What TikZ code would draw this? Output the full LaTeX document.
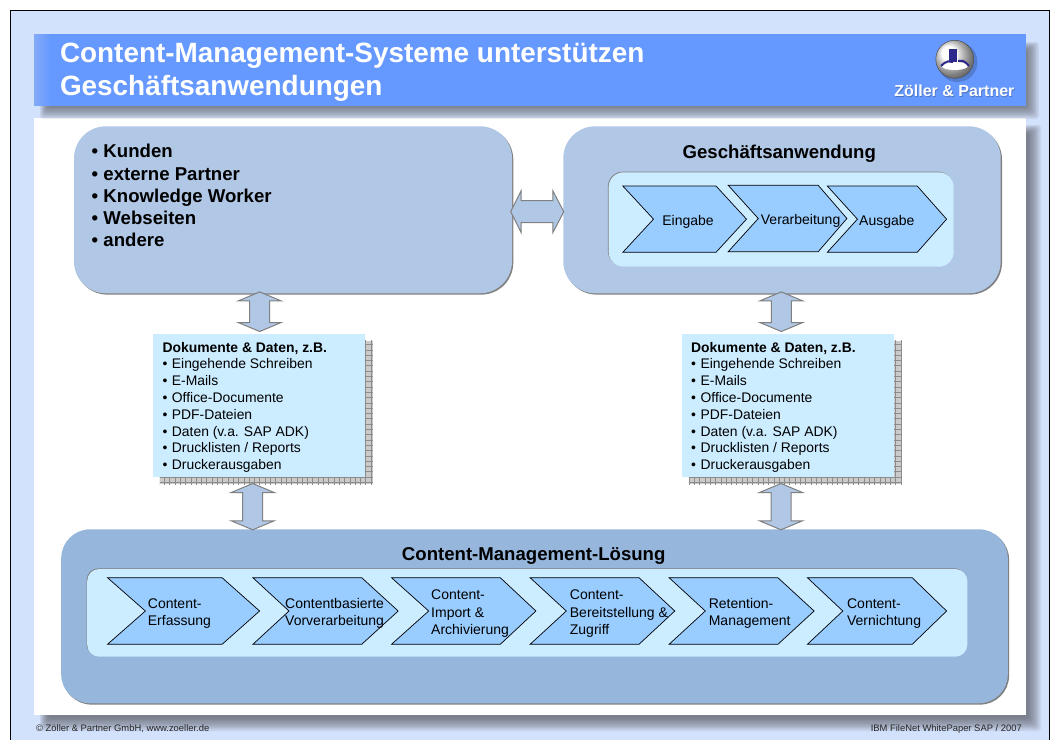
\documentclass[tikz,border=0pt]{standalone}
\usepackage{fontspec}
\setmainfont{Liberation Sans}
\usetikzlibrary{calc,shadings,fadings}
\definecolor{pagebg}{HTML}{D2E1FC}
\definecolor{headblue}{HTML}{6699FF}
\definecolor{headlight}{HTML}{85ABF8}
\definecolor{boxblue}{HTML}{B0C7E5}
\definecolor{solblue}{HTML}{96B6DC}
\definecolor{innerblue}{HTML}{CCECFF}
\definecolor{chevblue}{HTML}{99CCFF}
\definecolor{edgegray}{HTML}{808080}
\definecolor{gridfill}{HTML}{CACACA}
\definecolor{gridline}{HTML}{8C8C8C}
\definecolor{navy}{HTML}{2E2A8C}
\tikzset{
  softshadow/.style={fill=black!72,fill opacity=.085,draw=none},
  bigbox/.style={draw=none,rounded corners=#1,inner sep=0pt,
    preaction={fill=edgegray,transform canvas={shift={(1.3pt,-1.3pt)}}}},
  innerbox/.style={draw=none,fill=innerblue,rounded corners=#1,inner sep=0pt,
    preaction={fill=edgegray,transform canvas={shift={(-.7pt,.7pt)}}}},
  docbox/.style={fill=innerblue,draw=none,inner sep=0pt},
  gridshadow/.style={fill=gridfill,draw=none,inner sep=0pt},
  gridlines/.style={draw=gridline,line width=.6pt},
  chevstyle/.style={fill=chevblue,draw=black,line width=.7pt,line join=miter},
  vblock/.style={draw=edgegray,fill=boxblue,line width=1pt,to path={
    let \p1=(\tikztostart),\p2=(\tikztotarget) in
    (\x1,\y1) -- (\x1+21.5pt,\y1-9pt) -- (\x1+10pt,\y1-9pt) -- (\x1+10pt,\y2+9pt)
    -- (\x1+21.5pt,\y2+9pt) -- (\x1,\y2) -- (\x1-21.5pt,\y2+9pt) -- (\x1-10pt,\y2+9pt)
    -- (\x1-10pt,\y1-9pt) -- (\x1-21.5pt,\y1-9pt) -- cycle}},
  hblock/.style={draw=edgegray,fill=boxblue,line width=1pt,to path={
    let \p1=(\tikztostart),\p2=(\tikztotarget) in
    (\x1,\y1) -- (\x1+10.5pt,\y1+21pt) -- (\x1+10.5pt,\y1+11pt) -- (\x2-11pt,\y1+11pt)
    -- (\x2-11pt,\y1+21pt) -- (\x2,\y1) -- (\x2-11pt,\y1-21pt) -- (\x2-11pt,\y1-11pt)
    -- (\x1+10.5pt,\y1-11pt) -- (\x1+10.5pt,\y1-21pt) -- cycle}},
  titletext/.style={font=\fontsize{27.9}{33.4}\selectfont\bfseries,text=white,anchor=base west,inner sep=0pt},
  listtext/.style={font=\fontsize{18.6}{22.3}\selectfont\bfseries,align=left,anchor=north west,inner sep=0pt},
  headtext/.style={font=\fontsize{18.6}{20}\selectfont\bfseries,anchor=base,inner sep=0pt},
  chevtext/.style={font=\fontsize{14}{17.2}\selectfont,align=left,anchor=base west,inner sep=0pt},
  chevmulti/.style={font=\fontsize{14}{17.2}\selectfont,align=left,anchor=north west,inner sep=0pt},
  doctext/.style={font=\fontsize{13.9}{16.8}\selectfont,align=left,anchor=north west,inner sep=0pt},
  foottext/.style={font=\fontsize{9.4}{10}\selectfont,text=black!85,inner sep=0pt},
}
\newcommand{\chev}[6]{\draw[chevstyle] (#1,#5) -- (#3,#5) -- (#4,{(#5+#6)/2}) -- (#3,#6) -- (#1,#6) -- (#2,{(#5+#6)/2}) -- cycle;}
\newcommand{\softrect}[4]{\foreach \i in {0,...,9}{\fill[softshadow,rounded corners=3pt] ({#1+\i*.9},{#2+\i*.9}) rectangle ({#3-\i*1.4},{#4-\i*1.4});}}
\newcommand{\gridin}[4]{\foreach \gx in {#1,...,#2}{\draw[gridlines] ({\gx*5.3},#3) -- ({\gx*5.3},#4);}}
\newcommand{\doclines}{\textbf{Dokumente \& Daten, z.B.}\\
  \makebox[9.4pt][l]{•}Eingehende Schreiben\\
  \makebox[9.4pt][l]{•}E-Mails\\
  \makebox[9.4pt][l]{•}Office-Documente\\
  \makebox[9.4pt][l]{•}PDF-Dateien\\
  \makebox[9.4pt][l]{•}Daten (v.a. SAP ADK)\\
  \makebox[9.4pt][l]{•}Drucklisten / Reports\\
  \makebox[9.4pt][l]{•}Druckerausgaben}
\begin{document}
\begin{tikzpicture}[x=1pt,y=-1pt]
\useasboundingbox (0,0) rectangle (1050,740);
% page
\fill[white] (0,0) rectangle (1050,740);
\fill[pagebg] (10.5,10) rectangle (1049.5,740);
\draw[black,line width=1pt] (10.5,740) -- (10.5,10) -- (1049.5,10) -- (1049.5,740);
% panel and header
\softrect{40}{125}{1041}{731}
\fill[white] (33.5,118) rectangle (1026.4,715);
\softrect{40}{42}{1039}{119}
\fill[headblue] (34,34.3) rectangle (1025.7,105.7);
\shade[left color=headlight,right color=headblue] (34,34.3) rectangle (50,105.7);
% title
\node[titletext] (title1) at (59.8,62.3) {Content-Management-Systeme unterstützen};
\node[titletext] (title2) at (59.8,95.7) {Geschäftsanwendungen};
% logo
\fill[black,opacity=.18] (957.5,62) circle (20);
\shade[ball color=white,draw=black!70,line width=.5pt] (954.8,59.3) circle (19);
\fill[white] (954.8,66) ellipse (13 and 4);
\fill[navy] (949.3,48.5) rectangle (956.5,62);
\draw[navy,line width=2pt] (941,66) .. controls (947,60) and (950,61) .. (953,62);
\draw[navy,line width=2pt] (969,66) .. controls (964,60) and (961,60) .. (958,61);
\draw[white,line width=.8pt] (957,52) -- (957,66);
\node[font=\fontsize{16}{18}\selectfont\bfseries,text=black,opacity=.25,anchor=base,inner sep=0pt] (logoshadow) at (955.1,97.3) {Zöller \& Partner};
\node[font=\fontsize{16}{18}\selectfont\bfseries,text=white,anchor=base,inner sep=0pt] (logotext) at (954.4,96.7) {Zöller \& Partner};
% big boxes
\node[bigbox=32pt,fill=boxblue,minimum width=438pt,minimum height=167pt] (leftbox) at (293,209.8) {};
\node[bigbox=32pt,fill=boxblue,minimum width=437.4pt,minimum height=167pt] (rightbox) at (782,209.8) {};
\node[bigbox=29pt,fill=solblue,minimum width=946.6pt,minimum height=174pt] (solbox) at (534.5,616.3) {};
% left list
\node[listtext] (kunden) at (91.3,144.1) {\makebox[12pt][l]{•}Kunden\\
  \makebox[12pt][l]{•}externe Partner\\
  \makebox[12pt][l]{•}Knowledge Worker\\
  \makebox[12pt][l]{•}Webseiten\\
  \makebox[12pt][l]{•}andere};
% Geschäftsanwendung
\node[headtext] (gatitle) at (779.3,158.3) {Geschäftsanwendung};
\node[innerbox=15pt,minimum width=345.1pt,minimum height=94.4pt] (gainner) at (781.15,219.5) {};
\chev{622.8}{653.5}{716}{746.5}{186}{252.3}
\chev{728.2}{758.3}{818.2}{846.9}{185.3}{251.7}
\chev{827.3}{857.4}{917.2}{946.6}{186}{252.3}
\node[chevtext,anchor=base] (eingabe) at (688,225.7) {Eingabe};
\node[chevtext] (verarb) at (760.7,224.3) {Verarbeitung};
\node[chevtext] (ausgabe) at (859,225.7) {Ausgabe};
% document boxes
\node[gridshadow,minimum width=212.7pt,minimum height=143.3pt] (doclsh) at (266.35,412.65) {};
\node[gridshadow,minimum width=212.7pt,minimum height=143.3pt] (docrsh) at (795.35,412.65) {};
\begin{scope}
  \clip (doclsh.north west) rectangle (doclsh.south east);
  \foreach \gx in {30,...,71}{\draw[gridlines] ({\gx*5.3},330) -- ({\gx*5.3},490);}
  \foreach \gy in {64,...,92}{\draw[gridlines] (150,{\gy*5.3}) -- (380,{\gy*5.3});}
\end{scope}
\begin{scope}
  \clip (docrsh.north west) rectangle (docrsh.south east);
  \foreach \gx in {130,...,171}{\draw[gridlines] ({\gx*5.3},330) -- ({\gx*5.3},490);}
  \foreach \gy in {64,...,92}{\draw[gridlines] (675,{\gy*5.3}) -- (905,{\gy*5.3});}
\end{scope}
\node[docbox,minimum width=212.3pt,minimum height=142.7pt] (docl) at (258.85,405.35) {};
\node[docbox,minimum width=212pt,minimum height=142.7pt] (docr) at (788,405.35) {};
\node[doctext] (docltext) at (162.3,341.9) {\doclines};
\node[doctext] (docrtext) at (691,341.9) {\doclines};
% solution
\node[headtext] (soltitle) at (533.7,560.7) {Content-Management-Lösung};
\node[innerbox=12pt,minimum width=880.1pt,minimum height=87.7pt] (solinner) at (527.25,612.85) {};
\chev{107.5}{145.4}{222.1}{259.6}{577.7}{644.3}
\chev{252.9}{289}{361.7}{398.2}{577.7}{644.3}
\chev{391.5}{428.7}{500.3}{535.9}{577.7}{644.3}
\chev{530.1}{566.3}{639}{674.8}{577.7}{644.3}
\chev{669.1}{705.3}{777.9}{814.1}{577.7}{644.3}
\chev{807.4}{842.8}{912.2}{946.6}{577.7}{644.3}
\node[chevmulti] (c1) at (147.7,598.2) {Content-\\Erfassung};
\node[chevmulti] (c2) at (285,598.2) {Contentbasierte\\Vorverarbeitung};
\node[chevmulti] (c3) at (431,589.9) {Content-\\Import \&\\Archivierung};
\node[chevmulti] (c4) at (569.7,589.9) {Content-\\Bereitstellung \&\\Zugriff};
\node[chevmulti] (c5) at (708.6,598.2) {Retention-\\Management};
\node[chevmulti] (c6) at (846.9,598.2) {Content-\\Vernichtung};
% block arrows
\draw[hblock] ($(leftbox.east|-0,211.7)+(-1.5,0)$) to ($(rightbox.west|-0,211.7)+(.7,0)$);
\draw[vblock] ($(leftbox.south-|259.7,0)+(0,-1.6)$) to ($(docl.north-|259.7,0)+(0,-2.3)$);
\draw[vblock] ($(rightbox.south-|781.3,0)+(0,-1.6)$) to ($(docr.north-|781.3,0)+(0,-2.3)$);
\draw[vblock] ($(doclsh.south-|252.7,0)+(0,-1)$) to ($(solbox.north-|252.7,0)+(0,.7)$);
\draw[vblock] ($(docrsh.south-|781,0)+(0,-1)$) to ($(solbox.north-|781,0)+(0,.7)$);
% footer
\node[foottext,anchor=base west] (footl) at (36,731) {© Zöller \& Partner GmbH, www.zoeller.de};
\node[foottext,anchor=base east] (footr) at (1022,731) {IBM FileNet WhitePaper SAP / 2007};
\end{tikzpicture}
\end{document}
